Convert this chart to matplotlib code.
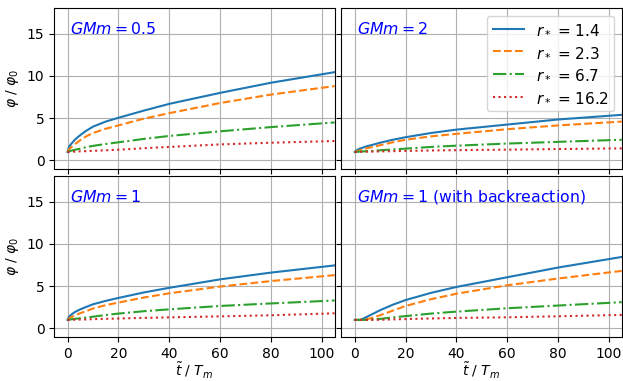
import numpy as np
import matplotlib.pyplot as plt

# time samples (t~ / T_m)
t = [0, 0.5, 1, 2, 3, 5, 7, 10, 15, 20, 30, 40, 60, 80, 105]

r_labels = ['1.4', '2.3', '6.7', '16.2']

# GMm = 0.5
phi_05_a = [1.0, 1.55, 1.8, 2.15, 2.5, 3.0, 3.45, 4.0, 4.6, 5.05, 5.9, 6.7, 8.0, 9.2, 10.45]
phi_05_b = [1.0, 1.3, 1.45, 1.7, 1.95, 2.4, 2.8, 3.25, 3.75, 4.15, 4.95, 5.6, 6.8, 7.8, 8.8]
phi_05_c = [1.0, 1.08, 1.12, 1.2, 1.27, 1.4, 1.55, 1.72, 1.95, 2.15, 2.55, 2.9, 3.45, 3.95, 4.5]
phi_05_d = [1.0, 1.01, 1.02, 1.04, 1.05, 1.08, 1.1, 1.14, 1.2, 1.27, 1.45, 1.6, 1.9, 2.1, 2.3]

# GMm = 2
phi_2_a = [1.0, 1.15, 1.25, 1.4, 1.5, 1.7, 1.85, 2.1, 2.45, 2.75, 3.25, 3.65, 4.25, 4.85, 5.4]
phi_2_b = [1.0, 1.05, 1.1, 1.2, 1.3, 1.45, 1.6, 1.8, 2.15, 2.45, 2.85, 3.15, 3.7, 4.15, 4.6]
phi_2_c = [1.0, 1.01, 1.02, 1.05, 1.07, 1.1, 1.14, 1.2, 1.3, 1.4, 1.6, 1.75, 2.0, 2.2, 2.45]
phi_2_d = [1.0, 1.0, 1.01, 1.02, 1.03, 1.04, 1.05, 1.07, 1.1, 1.13, 1.18, 1.22, 1.28, 1.35, 1.43]

# GMm = 1
phi_1_a = [1.0, 1.35, 1.5, 1.75, 1.95, 2.25, 2.5, 2.85, 3.25, 3.6, 4.25, 4.8, 5.8, 6.6, 7.45]
phi_1_b = [1.0, 1.15, 1.25, 1.4, 1.55, 1.8, 2.0, 2.35, 2.75, 3.05, 3.65, 4.15, 4.95, 5.6, 6.3]
phi_1_c = [1.0, 1.03, 1.05, 1.09, 1.13, 1.2, 1.27, 1.38, 1.58, 1.75, 2.03, 2.25, 2.65, 2.95, 3.3]
phi_1_d = [1.0, 1.0, 1.01, 1.02, 1.03, 1.05, 1.06, 1.09, 1.13, 1.17, 1.24, 1.3, 1.42, 1.55, 1.78]

# GMm = 1 with backreaction
phi_br_a = [1.0, 1.0, 1.0, 1.0, 1.1, 1.4, 1.7, 2.15, 2.8, 3.35, 4.2, 4.9, 6.05, 7.2, 8.45]
phi_br_b = [1.0, 1.0, 1.0, 1.0, 1.02, 1.1, 1.25, 1.55, 2.1, 2.65, 3.45, 4.1, 5.1, 5.9, 6.8]
phi_br_c = [1.0, 1.0, 1.0, 1.0, 1.0, 1.02, 1.05, 1.12, 1.3, 1.45, 1.75, 1.98, 2.38, 2.7, 3.1]
phi_br_d = [1.0, 1.0, 1.0, 1.0, 1.0, 1.0, 1.01, 1.02, 1.06, 1.1, 1.17, 1.23, 1.31, 1.43, 1.59]

panels = [
    ('$GMm = 0.5$', [phi_05_a, phi_05_b, phi_05_c, phi_05_d]),
    ('$GMm = 2$', [phi_2_a, phi_2_b, phi_2_c, phi_2_d]),
    ('$GMm = 1$', [phi_1_a, phi_1_b, phi_1_c, phi_1_d]),
    ('$GMm = 1$ (with backreaction)', [phi_br_a, phi_br_b, phi_br_c, phi_br_d]),
]

colors = ['tab:blue', 'tab:orange', 'tab:green', 'tab:red']
styles = ['-', '--', '-.', ':']

fig, axes = plt.subplots(2, 2, figsize=(6.23, 3.81), dpi=100, sharex=True, sharey=True)
fig.subplots_adjust(left=0.087, right=0.998, top=0.978, bottom=0.116,
                    wspace=0.024, hspace=0.046)

for ax, (title, series) in zip(axes.flat, panels):
    for y, c, ls, r in zip(series, colors, styles, r_labels):
        ax.plot(t, y, color=c, linestyle=ls, label='$r_*$ = ' + r)
    ax.text(0.055, 0.87, title, transform=ax.transAxes, color='blue',
            fontsize=11.3, va='center')
    ax.grid(True)

axes[0, 0].set_xlim(-5.25, 105)
axes[0, 0].set_ylim(-1, 18)
axes[0, 0].set_yticks([0, 5, 10, 15])
axes[0, 0].set_xticks([0, 20, 40, 60, 80, 100])

axes[0, 1].legend(loc='upper right', fontsize=11)

for ax in axes[:, 0]:
    ax.set_ylabel(r'$\varphi$ / $\varphi_0$')
for ax in axes[1, :]:
    ax.set_xlabel(r'$\tilde{t}$ / $T_m$', labelpad=0.5)

plt.savefig('out.png', dpi=100)
